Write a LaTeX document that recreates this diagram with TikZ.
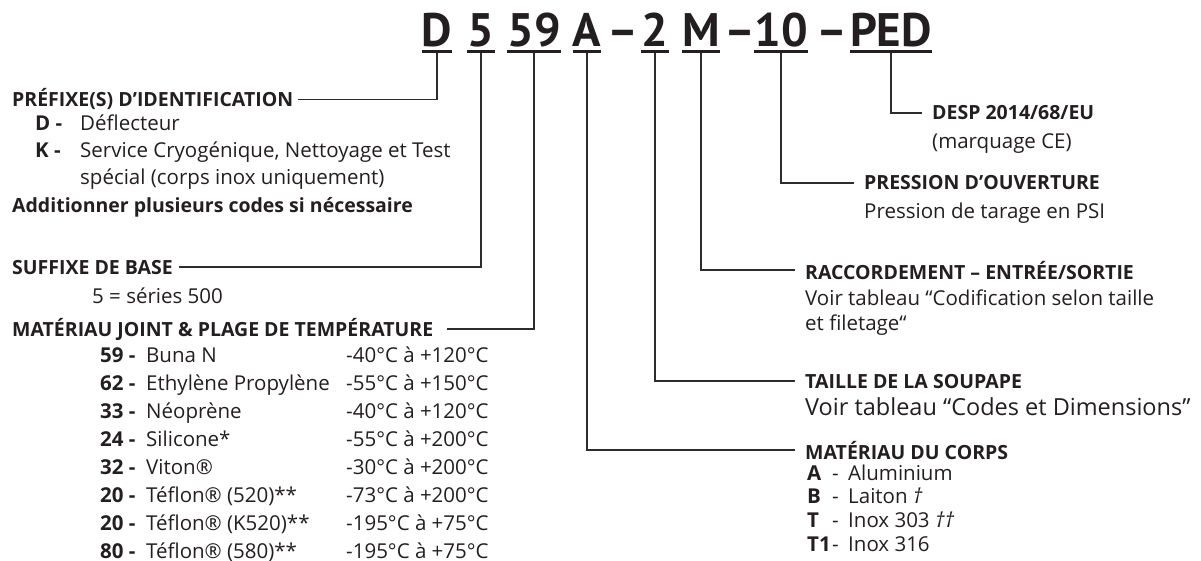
\documentclass[tikz,border=0pt]{standalone}
\usepackage{fontspec}
\setmainfont{Open Sans}
\newfontfamily\titlefont{PT Sans}
\usetikzlibrary{positioning}
\definecolor{inkblack}{RGB}{35,31,32}
\definecolor{leadgray}{RGB}{45,45,45}

\begin{document}
\begin{tikzpicture}[
  x=1pt, y=-1pt,
  token/.style={anchor=base, inner sep=0pt, text=inkblack,
                font=\titlefont\fontsize{47}{47}\selectfont\bfseries},
  head/.style={anchor=base west, inner sep=0pt, text=inkblack,
               font=\fontsize{19.5}{24}\selectfont\bfseries},
  body/.style={anchor=base west, inner sep=0pt, text=inkblack,
               font=\fontsize{20.5}{24}\selectfont},
  code/.style={body, font=\fontsize{20.5}{24}\selectfont\bfseries},
  ul/.style={line width=3pt, inkblack},
  lead/.style={line width=1.6pt, leadgray}
]
\useasboundingbox (0,0) rectangle (1201,561);

% reference code
\node[token] (tD)   at (437,47) {D};
\node[token] (t5)   at (481,47) {5};
\node[token] (t59)  at (534,47) {59};
\node[token] (tA)   at (587,47) {A};
\node[token] (dsh1) at (623,47) {–};
\node[token] (t2)   at (655,47) {2};
\node[token] (tM)   at (701,47) {M};
\node[token] (dsh2) at (740,47) {–};
\node[token] (t10)  at (781,47) {10};
\node[token] (dsh3) at (832,47) {–};
\node[token] (tPED) at (891,47) {PED};
\foreach \t in {tD,t5,t59,tA,t2,tM,t10,tPED}
  \draw[ul] ([yshift=-5pt]\t.base west) -- ([yshift=-5pt]\t.base east);

% left side
\node[head] (prefix) at (12,107) {PRÉFIXE(S) D’IDENTIFICATION};
\node[code] (pD) at (35,131) {D -};
\node[body] at (80,131) {Déflecteur};
\node[code] (pK) at (35,158) {K -};
\node[body] (pK1) at (80,158) {Service Cryogénique, Nettoyage et Test};
\node[body] (pK2) at (80,185) {spécial (corps inox uniquement)};
\node[head] (multi) at (12,213) {Additionner plusieurs codes si nécessaire};

\node[head] (suffix) at (12,274) {SUFFIXE DE BASE};
\node[body] (series) at (92,303) {5 = séries 500};

\node[head] (joint) at (12,336) {MATÉRIAU JOINT \& PLAGE DE TEMPÉRATURE};
\foreach \c/\m/\r [count=\i from 0] in {
    59/Buna N/{-40°C à +120°C},
    62/Ethylène Propylène/{-55°C à +150°C},
    33/Néoprène/{-40°C à +120°C},
    24/Silicone*/{-55°C à +200°C},
    32/Viton®/{-30°C à +200°C},
    20/Téflon® (520)**/{-73°C à +200°C},
    20/Téflon® (K520)**/{-195°C à +75°C},
    80/Téflon® (580)**/{-195°C à +75°C}} {
  \node[code] (jc\i) at (100,362+28*\i) {\c\ -};
  \node[body] (jm\i) at (146,362+28*\i) {\m};
  \node[body] (jr\i) at (346,362+28*\i) {\r};
}

% right side
\node[head] (desp) at (932,120) {DESP 2014/68/EU};
\node[body] (ce) at (932,149) {(marquage CE)};

\node[head] (press) at (864,190) {PRESSION D’OUVERTURE};
\node[body] (psi) at (864,219) {Pression de tarage en PSI};

\node[head] (conn) at (805,279) {RACCORDEMENT – ENTRÉE/SORTIE};
\node[body] (conn1) at (805,305) {Voir tableau “Codification selon taille};
\node[body] (conn2) at (805,330) {et filetage“};

\node[head] (size) at (805,388) {TAILLE DE LA SOUPAPE};
\node[body, font=\fontsize{23.5}{26}\selectfont] (size1) at (805,415)
  {Voir tableau “Codes et Dimensions”};

\node[head] (body) at (805,459) {MATÉRIAU DU CORPS};
\foreach \c/\m [count=\i from 0] in {A/Aluminium, B/Laiton \textit{†},
    T/Inox 303 \textit{††}, T1/Inox 316} {
  \node[code] (bc\i) at (807,480+23.7*\i) {\c};
  \node[body] (bd\i) at (832,480+23.7*\i) {-};
  \node[body] (bm\i) at (848,480+23.7*\i) {\m};
}

% leaders
\draw[lead] ([yshift=-6pt]tD.base)   |- ([xshift=5pt]prefix.east);
\draw[lead] ([yshift=-6pt]t5.base)   |- ([xshift=6pt]suffix.east);
\draw[lead] ([yshift=-6pt]t59.base)  |- ([xshift=14pt]joint.east);
\draw[lead] ([yshift=-6pt]tA.base)   |- ([xshift=-10pt]body.west);
\draw[lead] ([yshift=-6pt]t2.base)   |- ([xshift=-10pt]size.west);
\draw[lead] ([yshift=-6pt]tM.base)   |- ([xshift=-10pt]conn.west);
\draw[lead] ([yshift=-6pt]t10.base)  |- ([xshift=-10pt]press.west);
\draw[lead] ([yshift=-6pt]tPED.base) |- ([xshift=-10pt]desp.west);
\end{tikzpicture}
\end{document}
